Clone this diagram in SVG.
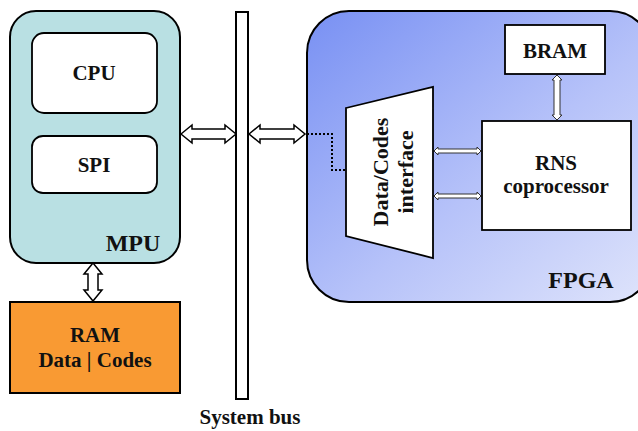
<svg xmlns="http://www.w3.org/2000/svg" width="638" height="431" viewBox="0 0 638 431">
  <defs>
    <linearGradient id="fpgaFill" x1="0" y1="0" x2="1" y2="1">
      <stop offset="0" stop-color="#7890f3"/>
      <stop offset="0.55" stop-color="#b6c2f9"/>
      <stop offset="1" stop-color="#dfe4fb"/>
    </linearGradient>
  </defs>
  <style>
    text { font-family: "Liberation Serif", "Times New Roman", serif; font-weight: bold; fill: #111; text-anchor: middle; }
    .box { fill: #fff; stroke: #000; stroke-width: 1.8; }
    .arrow { fill: #fff; stroke: #000; stroke-width: 1.5; stroke-linejoin: miter; }
    .thin { fill: #fff; stroke: #333; stroke-width: 1; }
  </style>

  <!-- MPU block with CPU and SPI -->
  <g id="mpu">
    <rect x="10" y="11" width="170" height="252" rx="26" fill="#b9e0e3" stroke="#000" stroke-width="2"/>
    <text x="133" y="251" font-size="24">MPU</text>
  </g>
  <g id="cpu">
    <rect class="box" x="32" y="33" width="125" height="80" rx="12"/>
    <text x="94" y="80" font-size="21">CPU</text>
  </g>
  <g id="spi">
    <rect class="box" x="32" y="136" width="125" height="57" rx="11"/>
    <text x="94" y="172" font-size="21">SPI</text>
  </g>

  <!-- RAM -->
  <g id="ram">
    <rect x="10" y="302" width="170" height="91" fill="#f99a33" stroke="#000" stroke-width="2"/>
    <text x="95" y="342" font-size="21">RAM</text>
    <text x="95" y="367" font-size="21">Data | Codes</text>
  </g>

  <!-- System bus -->
  <g id="bus">
    <rect x="236" y="12" width="12" height="387" fill="#fff" stroke="#000" stroke-width="2"/>
    <text x="250" y="424" font-size="21">System bus</text>
  </g>

  <!-- FPGA region -->
  <g id="fpga">
    <rect x="307" y="11" width="345" height="291" rx="42" fill="url(#fpgaFill)" stroke="#000" stroke-width="2"/>
    <text x="581" y="288" font-size="24">FPGA</text>
  </g>
  <g id="bram">
    <rect class="box" x="505" y="25" width="100" height="49"/>
    <text x="555" y="58" font-size="21">BRAM</text>
  </g>
  <g id="rns">
    <rect class="box" x="482" y="121" width="149" height="109"/>
    <text x="556" y="170" font-size="21">RNS</text>
    <text x="556" y="193" font-size="21">coprocessor</text>
  </g>
  <g id="interface">
    <polygon class="box" points="346,108 433,87 433,258 346,236"/>
    <text transform="translate(388,172) rotate(-90)" font-size="22">Data/Codes</text>
    <text transform="translate(413,172) rotate(-90)" font-size="22">interface</text>
  </g>

  <!-- Connectors -->
  <g id="connectors">
    <!-- MPU <-> bus -->
    <polygon class="arrow" points="181,134 192,125 192,129 225,129 225,125 236,134 225,143 225,139 192,139 192,143"/>
    <!-- bus <-> FPGA -->
    <polygon class="arrow" points="249,134 260,125 260,129 294,129 294,125 305,134 294,143 294,139 260,139 260,143"/>
    <!-- MPU <-> RAM -->
    <polygon class="arrow" points="93,263 102,274 98,274 98,290 102,290 93,301 84,290 88,290 88,274 84,274"/>
    <!-- bus link into the interface -->
    <path d="M307,134 H332 V170 H346" fill="none" stroke="#000" stroke-width="2" stroke-dasharray="2,2"/>
    <!-- interface <-> RNS coprocessor -->
    <polygon class="thin" points="434,151 438,147 438,149 477,149 477,147 481,151 477,155 477,153 438,153 438,155"/>
    <polygon class="thin" points="434,196 438,192 438,194 477,194 477,192 481,196 477,200 477,198 438,198 438,200"/>
    <!-- BRAM <-> RNS coprocessor -->
    <polygon class="thin" points="557,75 562,80 560,80 560,115 562,115 557,120 552,115 554,115 554,80 552,80"/>
  </g>
</svg>
